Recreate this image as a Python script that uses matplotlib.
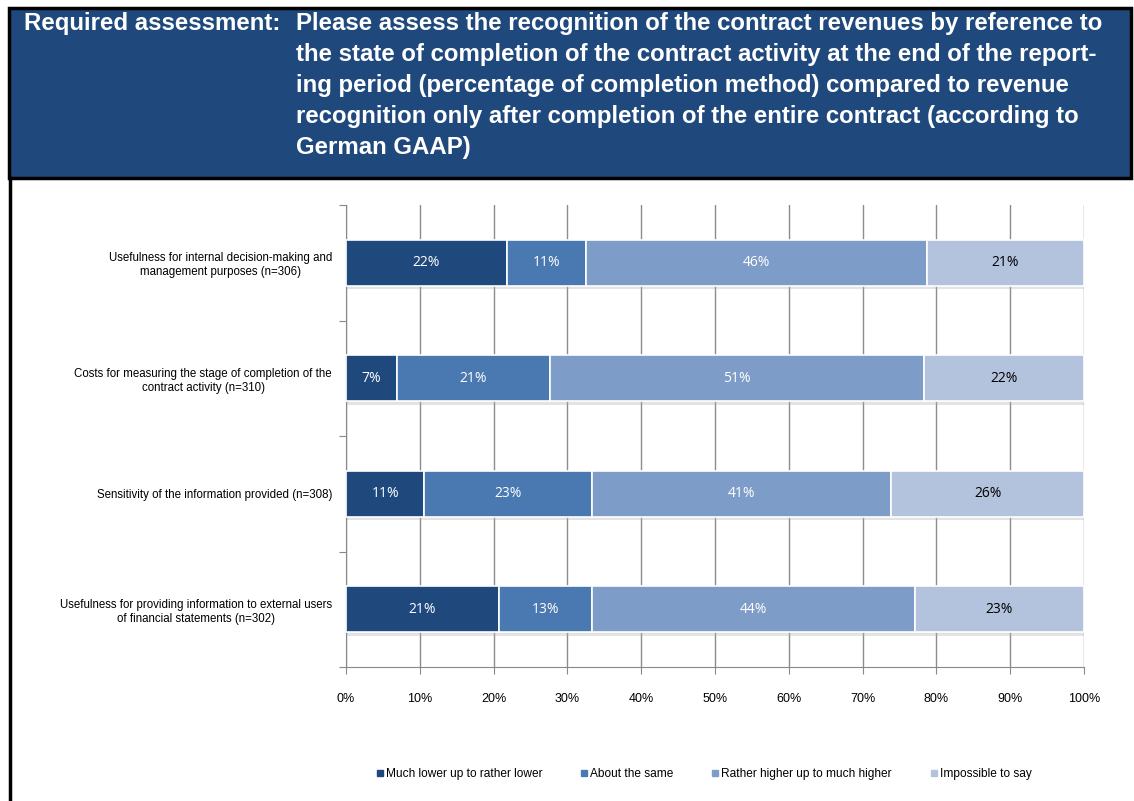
import matplotlib
matplotlib.use("Agg")
import matplotlib.pyplot as plt
import matplotlib.patheffects as pe
from matplotlib.patches import Rectangle
from matplotlib.lines import Line2D

questions = [
    "Usefulness for internal decision-making and\nmanagement purposes (n=306)",
    "Costs for measuring the stage of completion of the\ncontract activity (n=310)",
    "Sensitivity of the information provided (n=308)",
    "Usefulness for providing information to external users\nof financial statements (n=302)",
]
answers = ["Much lower up to rather lower", "About the same",
           "Rather higher up to much higher", "Impossible to say"]
much_lower = [21.8, 6.9, 10.6, 20.7]
about_same = [10.7, 20.7, 22.7, 12.6]
rather_higher = [46.2, 50.7, 40.6, 43.8]
impossible = [21.3, 21.7, 26.1, 22.9]

colors = ["#1F497D", "#4A78B0", "#7E9CC8", "#B4C3DD"]
label_colors = ["white", "white", "white", "black"]

fig = plt.figure(figsize=(11.34, 8.01), dpi=100)
W, H = 1134, 801

# header box with the question text
fig.patches.append(Rectangle((9 / W, 1 - 178 / H), 1122 / W, 170 / H,
                             transform=fig.transFigure, facecolor="#1F497D",
                             edgecolor="black", linewidth=2.5, zorder=0))
fig.add_artist(Line2D([10 / W, 10 / W], [0, 1 - 178 / H], color="black",
                      linewidth=2.5, transform=fig.transFigure))

fig.text(24 / W, 1 - 12 / H, "Required assessment:", color="white",
         family="Liberation Sans", weight="bold", fontsize=17.3, va="top", ha="left")
fig.text(296 / W, 1 - 12 / H,
         "Please assess the recognition of the contract revenues by reference to\n"
         "the state of completion of the contract activity at the end of the report-\n"
         "ing period (percentage of completion method) compared to revenue\n"
         "recognition only after completion of the entire contract (according to\n"
         "German GAAP)",
         color="white", family="Liberation Sans", weight="bold", fontsize=17.3,
         va="top", ha="left", linespacing=1.44)

ax = fig.add_axes([346 / W, 1 - 667 / H, 738 / W, 462 / H])
ypos = [3, 2, 1, 0]
series = [much_lower, about_same, rather_higher, impossible]
left = [0.0] * 4
shadow = [pe.SimplePatchShadow(offset=(1, -2.5), shadow_rgbFace="#b0b0b0", alpha=0.35),
          pe.Normal()]
for vals, col, tcol, name in zip(series, colors, label_colors, answers):
    bars = ax.barh(ypos, vals, left=left, height=0.4, color=col,
                   edgecolor="white", linewidth=1.2, label=name, zorder=3)
    for b in bars:
        b.set_path_effects(shadow)
    for y, v, l in zip(ypos, vals, left):
        ax.text(l + v / 2, y, f"{v:.0f}%", ha="center", va="center",
                color=tcol, fontsize=10, family="Open Sans", zorder=4)
    left = [l + v for l, v in zip(left, vals)]

ax.set_xlim(0, 100)
ax.set_ylim(-0.5, 3.5)
ax.set_xticks(range(0, 101, 10))
ax.set_xticklabels([f"{t}%" for t in range(0, 101, 10)],
                   family="Liberation Sans", fontsize=9)
ax.set_yticks(ypos)
ax.set_yticklabels(questions, family="Liberation Sans", fontsize=8.3,
                   multialignment="center")
ax.set_yticks([-0.5, 0.5, 1.5, 2.5, 3.5], minor=True)
ax.tick_params(axis="y", which="major", length=0, pad=10)
ax.tick_params(axis="y", which="minor", length=5, color="#888888", width=0.8)
ax.tick_params(axis="x", length=5, color="#888888", width=0.8, pad=14)
ax.grid(axis="x", color="#8c8c8c", linewidth=1, zorder=0)
ax.set_axisbelow(True)
for s in ["top", "right"]:
    ax.spines[s].set_visible(False)
for s in ["left", "bottom"]:
    ax.spines[s].set_color("#888888")
    ax.spines[s].set_linewidth(0.8)

handles = [Line2D([], [], marker="s", linestyle="none", markersize=4,
                  markerfacecolor=c, markeredgecolor=c) for c in colors]
fig.legend(handles, answers, loc="center", bbox_to_anchor=(704 / W, 1 - 774 / H),
           ncol=4, frameon=False, handletextpad=0.2, columnspacing=3.2,
           handlelength=0.6, prop={"family": "Liberation Sans", "size": 8.6})

fig.savefig("out.png", dpi=100)
